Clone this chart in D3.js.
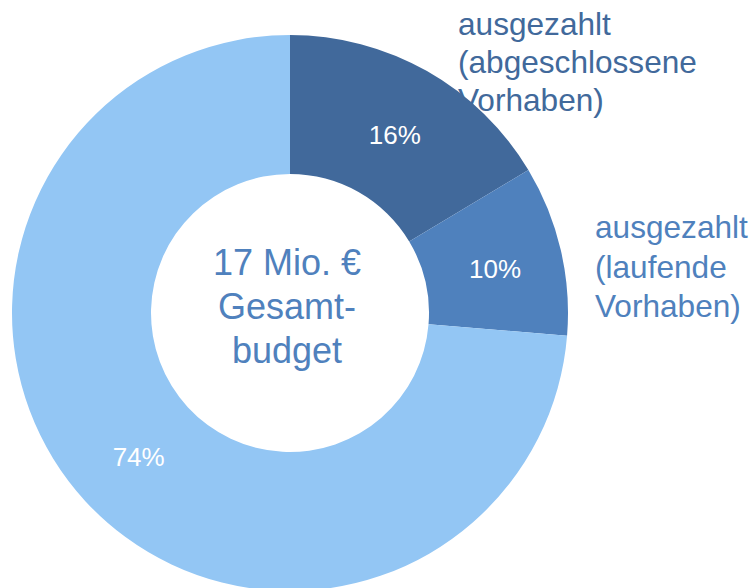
<!DOCTYPE html>
<html>
<head>
<meta charset="utf-8">
<script src="https://cdn.jsdelivr.net/npm/d3@7"></script>
<style>
  body { margin: 0; background: #fff; }
  text { font-family: "Liberation Sans", Arial, sans-serif; }
</style>
</head>
<body>
<div id="chart"></div>
<script>
// budget shares in percent (labels are shown rounded)
var categories = ['abgeschlossen', 'laufend', 'offen'];
var shares = [16.4, 9.9, 73.7];
var outsideLabels = [
    ['ausgezahlt', '(abgeschlossene', 'Vorhaben)'],
    ['ausgezahlt', '(laufende', 'Vorhaben)'],
    null
];
var centerLines = ['17 Mio. €', 'Gesamt-', 'budget'];

var colors = ['#41699B', '#4F81BD', '#93C6F4'];
var labelColors = ['#41699B', '#4F81BD', null];

var svgWidth = 753, svgHeight = 588;
var cx = 290, cy = 313;
var outerR = 278, innerR = 139;

var svg = d3.select('#chart')
    .append('svg')
    .attr('width', svgWidth)
    .attr('height', svgHeight);

// outside labels sit behind the ring (the ring covers part of them)
var labelPos = [
    { x: 458, y: 35, step: 38 },
    { x: 595, y: 238, step: 39.5 }
];
outsideLabels.forEach(function (lines, i) {
    if (!lines) return;
    var t = svg.append('text')
        .attr('x', labelPos[i].x)
        .attr('y', labelPos[i].y)
        .attr('fill', labelColors[i])
        .style('font-size', '31.6px');
    lines.forEach(function (line, j) {
        t.append('tspan')
            .attr('x', labelPos[i].x)
            .attr('y', labelPos[i].y + j * labelPos[i].step)
            .text(line);
    });
});

var g = svg.append('g')
    .attr('transform', 'translate(' + cx + ',' + cy + ')');

var pie = d3.pie().sort(null).value(function (d) { return d; });
var arc = d3.arc().innerRadius(innerR).outerRadius(outerR);

var arcs = pie(shares);

g.selectAll('path.slice')
    .data(arcs)
    .enter().append('path')
    .attr('class', 'slice')
    .attr('d', arc)
    .attr('fill', function (d, i) { return colors[i]; });

g.selectAll('text.pct')
    .data(arcs)
    .enter().append('text')
    .attr('class', 'pct')
    .attr('transform', function (d) {
        var c = arc.centroid(d);
        return 'translate(' + (c[0] + 2) + ',' + (c[1] + 3) + ')';
    })
    .attr('text-anchor', 'middle')
    .attr('dominant-baseline', 'central')
    .attr('fill', '#fff')
    .style('font-size', '26px')
    .text(function (d) { return Math.round(d.data) + '%'; });

var ct = g.append('text')
    .attr('text-anchor', 'middle')
    .attr('fill', '#4F81BD')
    .style('font-size', '36px');
centerLines.forEach(function (line, j) {
    ct.append('tspan')
        .attr('x', -3)
        .attr('y', -38 + j * 44)
        .text(line);
});
</script>
</body>
</html>
